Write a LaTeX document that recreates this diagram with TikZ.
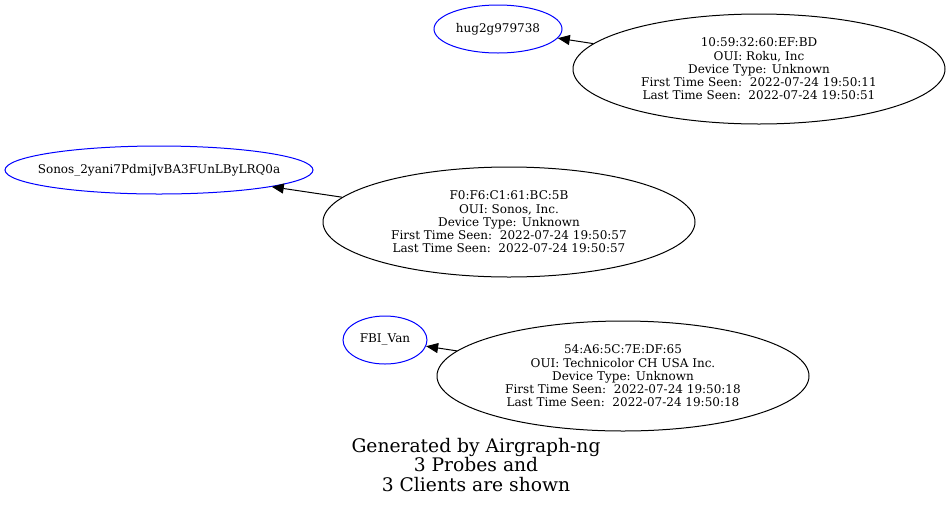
\documentclass[tikz,border=0pt]{standalone}
\usepackage{fontspec}
\setmainfont{DejaVu Serif}
\usetikzlibrary{shapes.geometric,arrows.meta,positioning}

\tikzset{
    probe/.style={ellipse, draw=blue, line width=1pt, inner sep=0pt, minimum height=48pt,
        font=\fontsize{12}{13.3}\selectfont},
    client/.style={ellipse, draw=black, line width=1pt, inner sep=0pt, minimum width=372pt,
        minimum height=110pt, align=center, font=\fontsize{12}{13.3}\selectfont},
    probeedge/.style={line width=1pt, -{Triangle[length=12pt,width=10pt]}}
}
\newcommand{\probename}[1]{\makebox[0pt]{#1}}
\newcommand{\clientinfo}[5]{#1\\OUI: #2\\Device Type: #3\\First Time Seen:\ \ #4\\Last Time Seen:\ \ #5}

\begin{document}
\begin{tikzpicture}[x=1pt, y=-1pt]
    \useasboundingbox (0,0) rectangle (951,507);

    % Roku
    \node [probe, minimum width=128pt] (hug) at (498,29) {\probename{hug2g979738}};
    \node [client] (roku) at (759,69)
        {\clientinfo{10:59:32:60:EF:BD}{Roku, Inc}{Unknown}{2022-07-24 19:50:11}{2022-07-24 19:50:51}};
    \draw [probeedge] (roku) -- (hug);

    % Sonos
    \node [probe, minimum width=308pt] (sonos) at (159,170) {\probename{Sonos\_2yani7PdmiJvBA3FUnLByLRQ0a}};
    \node [client] (sonoscl) at (509,222)
        {\clientinfo{F0:F6:C1:61:BC:5B}{Sonos, Inc.}{Unknown}{2022-07-24 19:50:57}{2022-07-24 19:50:57}};
    \draw [probeedge] (sonoscl) -- (sonos);

    % Technicolor
    \node [probe, minimum width=84pt] (fbi) at (385,340) {\probename{FBI\_Van}};
    \node [client] (techcl) at (623,376)
        {\clientinfo{54:A6:5C:7E:DF:65}{Technicolor CH USA Inc.}{Unknown}{2022-07-24 19:50:18}{2022-07-24 19:50:18}};
    \draw [probeedge] (techcl) -- (fbi);

    \node [align=center, inner sep=0pt, font=\fontsize{18.7}{19.5}\selectfont] (caption) at (476,465)
        {Generated by Airgraph-ng\\3 Probes and\\3 Clients are shown};
\end{tikzpicture}
\end{document}
